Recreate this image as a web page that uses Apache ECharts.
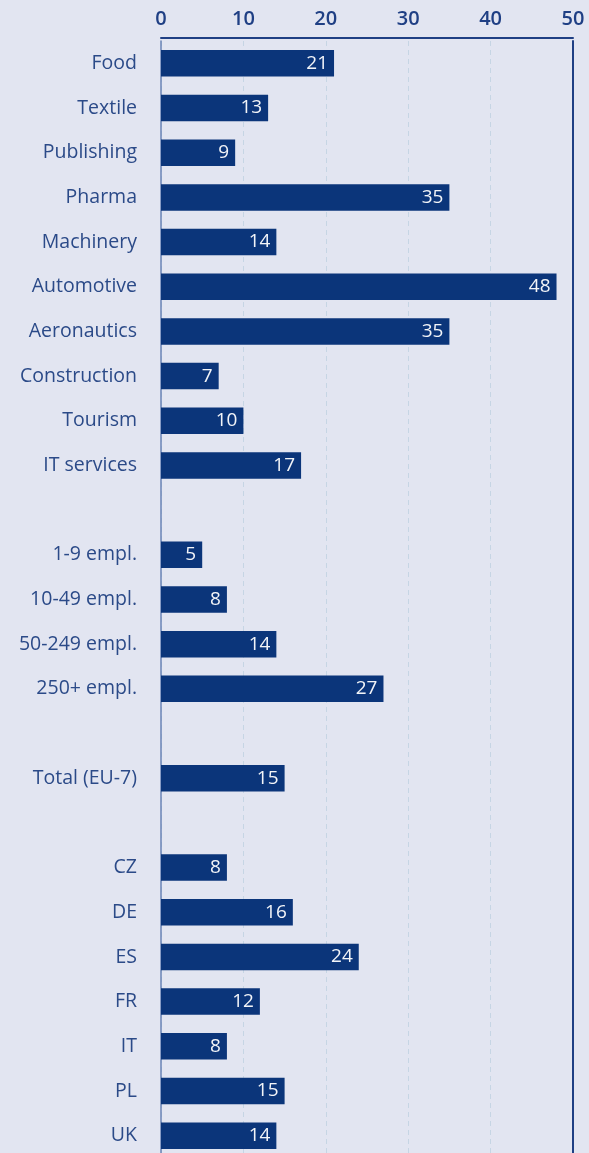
<!DOCTYPE html>
<html>
<head>
<meta charset="utf-8">
<script src="https://cdn.jsdelivr.net/npm/echarts@6/dist/echarts.min.js"></script>
<style>
  html, body { margin: 0; padding: 0; background: #e2e5f1; }
  #chart { width: 589px; height: 1153px; }
</style>
</head>
<body>
<div id="chart"></div>
<script>
// Share of firms by sector, firm size and country (%)
const sectors = ['Food', 'Textile', 'Publishing', 'Pharma', 'Machinery', 'Automotive',
                 'Aeronautics', 'Construction', 'Tourism', 'IT services'];
const sectorValues = [21, 13, 9, 35, 14, 48, 35, 7, 10, 17];

const sizeClasses = ['1-9 empl.', '10-49 empl.', '50-249 empl.', '250+ empl.'];
const sizeValues = [5, 8, 14, 27];

const totalLabels = ['Total (EU-7)'];
const totalValues = [15];

const countries = ['CZ', 'DE', 'ES', 'FR', 'IT', 'PL', 'UK'];
const countryValues = [8, 16, 24, 12, 8, 15, 14];

const axisTicks = [0, 10, 20, 30, 40, 50];

// Groups are separated by one empty row
const groups = [
  [sectors, sectorValues],
  [sizeClasses, sizeValues],
  [totalLabels, totalValues],
  [countries, countryValues]
];
const categories = [];
const values = [];
groups.forEach(([names, vals], gi) => {
  if (gi > 0) { categories.push(''); values.push('-'); }
  names.forEach((n, i) => { categories.push(n); values.push(vals[i]); });
});

const navy = '#0b357a';
const frame = '#1f3f84';
const labelBlue = '#2b4a88';

const chart = echarts.init(document.getElementById('chart'));
chart.setOption({
  backgroundColor: '#e2e5f1',
  animation: false,
  grid: {
    left: 161, right: 16, top: 41, height: 1117,
    containLabel: false, outerBoundsMode: 'none'
  },
  xAxis: {
    type: 'value',
    position: 'top',
    min: axisTicks[0],
    max: axisTicks[axisTicks.length - 1],
    interval: 10,
    offset: 3,
    axisLine: { show: true, lineStyle: { color: frame, width: 2 } },
    axisTick: { show: false },
    axisLabel: {
      color: frame, fontSize: 20, fontWeight: 600,
      fontFamily: 'Open Sans', margin: 9
    },
    splitLine: {
      show: true,
      lineStyle: { color: '#c6d5e4', type: [5, 4], width: 1 }
    }
  },
  yAxis: [
    {
      type: 'category',
      inverse: true,
      data: categories,
      axisLine: { show: true, lineStyle: { color: '#6a83b6', width: 1.5 } },
      axisTick: { show: false },
      axisLabel: {
        color: labelBlue, fontSize: 19.5, fontFamily: 'Open Sans', margin: 24
      }
    },
    {
      type: 'category',
      inverse: true,
      position: 'right',
      data: categories,
      axisLine: { show: true, lineStyle: { color: frame, width: 2 } },
      axisTick: { show: false },
      axisLabel: { show: false }
    }
  ],
  series: [{
    type: 'bar',
    yAxisIndex: 0,
    data: values,
    barWidth: 26.5,
    itemStyle: { color: navy },
    label: {
      show: true,
      position: 'insideRight',
      distance: 6,
      color: '#f2f4f8',
      fontSize: 19,
      fontFamily: 'Open Sans'
    }
  }]
});
</script>
</body>
</html>
